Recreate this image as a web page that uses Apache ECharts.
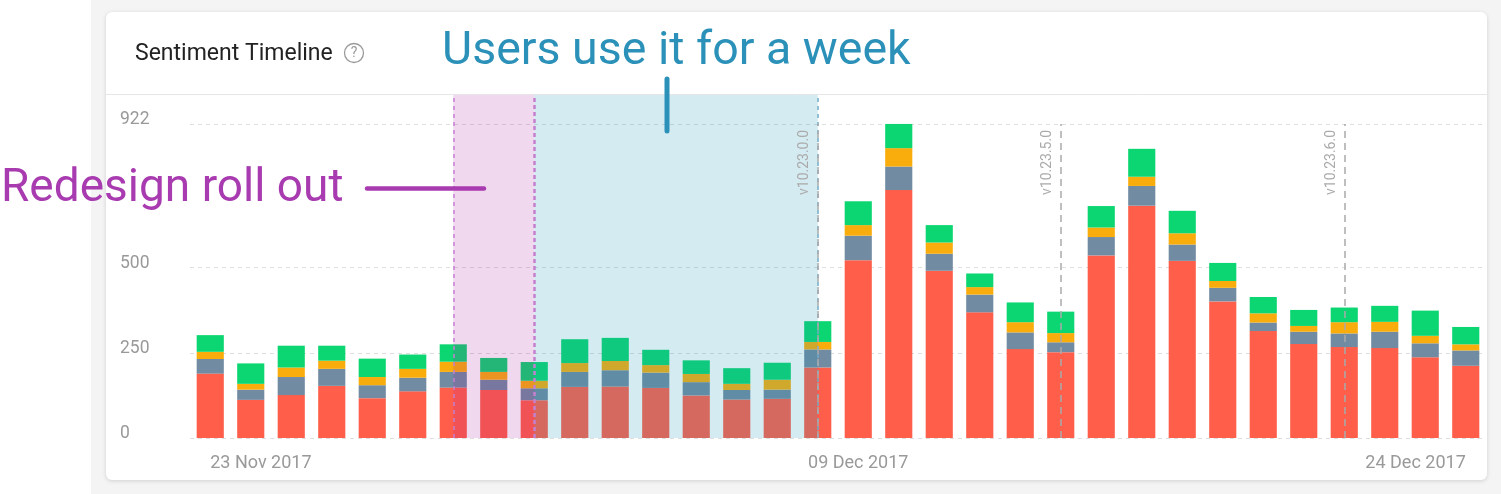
<!DOCTYPE html>
<html>
<head>
<meta charset="utf-8">
<script src="https://cdn.jsdelivr.net/npm/echarts@6/dist/echarts.min.js"></script>
<style>
html,body{margin:0;padding:0;background:#fff;}
#chart{width:1501px;height:494px;}
</style>
</head>
<body>
<div id="chart"></div>
<script>
const dates = ['2017-11-23','2017-11-24','2017-11-25','2017-11-26','2017-11-27','2017-11-28','2017-11-29','2017-11-30',
  '2017-12-01','2017-12-02','2017-12-03','2017-12-04','2017-12-05','2017-12-06','2017-12-07','2017-12-08',
  '2017-12-09','2017-12-10','2017-12-11','2017-12-12','2017-12-13','2017-12-14','2017-12-15','2017-12-16',
  '2017-12-17','2017-12-18','2017-12-19','2017-12-20','2017-12-21','2017-12-22','2017-12-23','2017-12-24'];
const negative = [189,112,126,153,117,137,148,141,111,150,151,147,125,113,115,207,522,728,491,369,261,252,536,682,520,401,314,276,267,264,237,212];
const neutral  = [43,30,53,50,38,40,46,30,35,44,48,45,39,28,27,53,72,69,50,52,49,29,54,58,48,40,25,36,40,48,41,45];
const mixed    = [21,17,28,24,24,26,30,23,22,26,27,22,24,18,29,22,31,54,33,22,30,27,28,27,33,20,27,17,33,29,22,18];
const positive = [49,60,64,44,54,42,51,41,55,70,68,45,40,46,50,61,70,71,51,40,58,63,63,82,66,53,48,47,43,47,74,51];
const yTicks = [0, 250, 500, 922];
const xLabelIdx = [0, 16, 31];
const versions = [{name:'v10.23.0.0', idx:15},{name:'v10.23.5.0', idx:21},{name:'v10.23.6.0', idx:28}];
const redesign = [6, 8];
const weekOfUse = [8, 15];
const yMax = 1007;

const months = ['Jan','Feb','Mar','Apr','May','Jun','Jul','Aug','Sep','Oct','Nov','Dec'];
function fmtDate(s){const p=s.split('-');return p[2]+' '+months[+p[1]-1]+' '+p[0];}

const FONT = 'Roboto, "Noto Sans", sans-serif';
const chart = echarts.init(document.getElementById('chart'));

const versionLines = versions.map(v => [
  {coord:[v.idx, 0], name: v.name,
    lineStyle:{color:'#aaaaaa', type:[7,5], width:1.5},
    label:{show:true, position:'insideEndTop', formatter:'{b}', color:'#aaa', fontSize:14, fontFamily:FONT, distance:6}},
  {coord:[v.idx, yTicks[yTicks.length-1]]}
]);

const option = {
  backgroundColor: '#ffffff',
  animation: false,
  textStyle: {fontFamily: FONT},
  graphic: [
    {type:'rect', z:-20, silent:true, shape:{x:91, y:0, width:1410, height:494}, style:{fill:'#f4f4f4'}},
    {type:'rect', z:-19, silent:true, shape:{x:106, y:12, width:1381, height:468, r:6},
      style:{fill:'#ffffff', shadowBlur:4, shadowColor:'rgba(0,0,0,0.15)', shadowOffsetY:1}},
    {type:'line', z:-18, silent:true, shape:{x1:106, y1:94.5, x2:1487, y2:94.5}, style:{stroke:'#e6e6e6', lineWidth:1}},
    {type:'text', z:10, silent:true, x:135, y:54, style:{text:'Sentiment Timeline', fill:'#222', font:'23px '+FONT, align:'left', verticalAlign:'middle'}},
    {type:'circle', z:10, silent:true, shape:{cx:354, cy:53, r:9.5}, style:{fill:'none', stroke:'#9a9a9a', lineWidth:1.3}},
    {type:'text', z:10, silent:true, x:354, y:53.5, style:{text:'?', fill:'#9a9a9a', font:'14px '+FONT, align:'center', verticalAlign:'middle'}},
    {type:'text', z:100, silent:true, x:1, y:189, style:{text:'Redesign roll out', fill:'#a93bb0', font:'46px '+FONT, align:'left', verticalAlign:'middle'}},
    {type:'line', z:100, silent:true, shape:{x1:367, y1:188.5, x2:484, y2:188.5}, style:{stroke:'#a93bb0', lineWidth:4.5, lineCap:'round'}},
    {type:'text', z:100, silent:true, x:442, y:52, style:{text:'Users use it for a week', fill:'#2b91b9', font:'46.5px '+FONT, align:'left', verticalAlign:'middle'}},
    {type:'line', z:100, silent:true, shape:{x1:667, y1:79, x2:667, y2:131}, style:{stroke:'#2b91b9', lineWidth:5, lineCap:'round'}}
  ],
  grid: {left:190, right:15, top:95, bottom:56, containLabel:false},
  xAxis: [{
    type: 'category', data: dates,
    axisLine: {show:false}, axisTick: {show:false},
    axisLabel: {
      interval: (i) => xLabelIdx.indexOf(i) >= 0,
      formatter: fmtDate, color:'#999', fontSize:18, margin:16, fontFamily: FONT,
      alignMinLabel:'left', alignMaxLabel:'right'
    }
  }, {
    type: 'value', min: -0.5, max: dates.length - 0.5, show: false
  }],
  yAxis: {
    type: 'value', min: 0, max: yMax,
    axisLine: {show:false},
    axisTick: {show:false, customValues: yTicks},
    axisLabel: {customValues: yTicks, color:'#999', fontSize:17.5, margin:70, align:'left', fontFamily: FONT,
      verticalAlign:'bottom', lineHeight:8},
    splitLine: {show:true, lineStyle:{color:'#dedede', type:[4,4], width:1}}
  },
  series: [
    {name:'Negative', type:'bar', stack:'s', data:negative, barCategoryGap:'33%', itemStyle:{color:'#ff5f4a'}},
    {name:'Neutral', type:'bar', stack:'s', data:neutral, itemStyle:{color:'#718ba2'}},
    {name:'Mixed', type:'bar', stack:'s', data:mixed, itemStyle:{color:'#f9ad0c'}},
    {name:'Positive', type:'bar', stack:'s', data:positive, itemStyle:{color:'#0bd671'}},
    {name:'annotations', type:'line', xAxisIndex:1, yAxisIndex:0, data:[], silent:true,
      markArea: {
        silent:true, z:3,
        data: [
          [{xAxis: redesign[0], itemStyle:{color:'rgba(160,20,150,0.16)', borderWidth:0}}, {xAxis: redesign[1]}],
          [{xAxis: weekOfUse[0], itemStyle:{color:'rgba(31,147,184,0.19)', borderWidth:0}}, {xAxis: weekOfUse[1]}]
        ]
      },
      markLine: {
        silent:true, symbol:['none','none'], animation:false,
        label:{show:false},
        data: [
          {xAxis: redesign[0], lineStyle:{color:'#c57fcf', type:[4,4], width:1.5}, label:{show:false}},
          {xAxis: redesign[1], lineStyle:{color:'#c57fcf', type:[4,3], width:2.5}, label:{show:false}},
          {xAxis: weekOfUse[1], lineStyle:{color:'#74abc3', type:[4,4], width:1.5}, label:{show:false}}
        ].concat(versionLines)
      }
    }
  ]
};
chart.setOption(option);
</script>
</body>
</html>
